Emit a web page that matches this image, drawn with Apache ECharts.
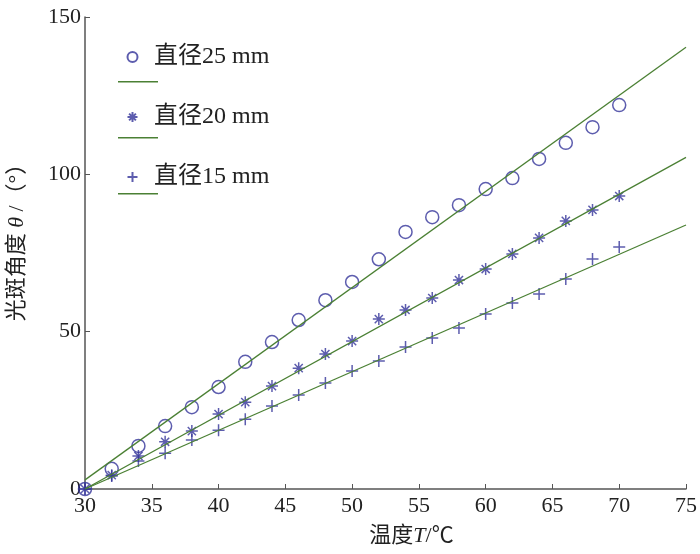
<!DOCTYPE html>
<html>
<head>
<meta charset="utf-8">
<script src="https://cdn.jsdelivr.net/npm/echarts@6/dist/echarts.min.js"></script>
<style>
  html, body { margin: 0; padding: 0; background: #fff; }
  #chart { width: 700px; height: 554px; }
</style>
</head>
<body>
<div id="chart"></div>
<script>
// temperature (℃) of the measured points
var temps = [30, 32, 34, 36, 38, 40, 42, 44, 46, 48, 50, 52, 54, 56, 58, 60, 62, 64, 66, 68, 70]
// spot angle (°) for each diameter
var d25 = [0, 6.4, 13.7, 20, 26, 32.4, 40.4, 46.7, 53.7, 60, 65.8, 73, 81.7, 86.4, 90.2, 95.3, 98.8, 104.9, 110, 115, 122]
var d20 = [0, 4.4, 10.5, 15, 18.4, 23.8, 27.6, 32.7, 38.4, 42.9, 47, 54, 56.9, 60.7, 66.4, 69.9, 74.7, 79.8, 85.2, 88.7, 93.1]
var d15 = [0, 4.1, 8.9, 11.4, 15.6, 18.7, 22.2, 26.4, 29.9, 33.7, 37.5, 40.7, 45.1, 48, 51.2, 55.6, 59.1, 62, 66.7, 73.1, 76.9]
// fitted lines, end points
var fitX = [30, 75]
var fit25 = [2.9, 140.4]
var fit20 = [0, 105.4]
var fit15 = [0, 83.9]
var names = ['直径25 mm', '直径20 mm', '直径15 mm']
var fitNames = ['拟合25 mm', '拟合20 mm', '拟合15 mm']

function pairs(xs, ys) {
    var out = []
    for (var i = 0; i < xs.length; i++) out.push([xs[i], ys[i]])
    return out
}

var blue = '#34349a'
var green = '#4b8034'
var axisCol = '#555'
var font = '"Liberation Serif", "Times New Roman", "Noto Sans CJK SC", serif'

var starPath = 'path://M5,0L5,10M0,5L10,5M1.6,1.6L8.4,8.4M8.4,1.6L1.6,8.4'
var plusPath = 'path://M5,0L5,10M0,5L10,5'

var chart = echarts.init(document.getElementById('chart'))

var scatterStyle = { color: 'none', borderColor: blue, borderWidth: 1.5 }

var option = {
    backgroundColor: '#fff',
    animation: false,
    textStyle: { fontFamily: font },
    grid: { left: 85, right: 14, top: 17, bottom: 65, outerBoundsMode: 'none', containLabel: false },
    legend: [
        {
            data: names,
            orient: 'vertical',
            left: 120,
            top: 40,
            itemWidth: 33,
            itemHeight: 10,
            itemGap: 36,
            textStyle: { fontSize: 24, lineHeight: 22, color: '#222', fontFamily: font }
        },
        {
            data: fitNames,
            orient: 'vertical',
            left: 113,
            top: 76,
            icon: 'rect',
            itemWidth: 40,
            itemHeight: 1.5,
            itemGap: 54.5,
            formatter: function () { return '' },
            textStyle: { fontSize: 1, lineHeight: 1 }
        }
    ],
    xAxis: {
        type: 'value',
        min: 30,
        max: 75,
        interval: 5,
        splitLine: { show: false },
        axisLine: { lineStyle: { color: axisCol, width: 1.5 } },
        axisTick: { inside: true, length: 5, lineStyle: { color: axisCol } },
        axisLabel: { fontSize: 22, color: '#222', margin: 6, fontFamily: font },
        name: '温度{i|T}/℃',
        nameLocation: 'middle',
        nameGap: 36,
        nameTextStyle: {
            fontSize: 22, color: '#222', fontFamily: font, padding: [0, 0, 0, 52],
            rich: { i: { fontSize: 22, fontStyle: 'italic', fontFamily: font, color: '#222' } }
        }
    },
    yAxis: {
        type: 'value',
        min: 0,
        max: 150,
        interval: 50,
        splitLine: { show: false },
        axisLine: { show: true, lineStyle: { color: axisCol, width: 1.5 } },
        axisTick: { show: true, inside: true, length: 5, lineStyle: { color: axisCol } },
        axisLabel: { fontSize: 22, color: '#222', margin: 4, fontFamily: font },
        name: '光斑角度 {i|θ} /（°）',
        nameLocation: 'middle',
        nameRotate: 90,
        nameGap: 57,
        nameTextStyle: {
            fontSize: 22, color: '#222', fontFamily: font, padding: [0, 0, 0, 32],
            rich: { i: { fontSize: 22, fontStyle: 'italic', fontFamily: font, color: '#222' } }
        }
    },
    series: [
        {
            name: fitNames[0], type: 'line', data: pairs(fitX, fit25),
            symbol: 'none', showSymbol: false, lineStyle: { color: green, width: 1.3 }, itemStyle: { color: green }
        },
        {
            name: fitNames[1], type: 'line', data: pairs(fitX, fit20),
            symbol: 'none', showSymbol: false, lineStyle: { color: green, width: 1.3 }, itemStyle: { color: green }
        },
        {
            name: fitNames[2], type: 'line', data: pairs(fitX, fit15),
            symbol: 'none', showSymbol: false, lineStyle: { color: green, width: 1.3 }, itemStyle: { color: green }
        },
        {
            name: names[0], type: 'scatter', data: pairs(temps, d25),
            symbol: 'circle', symbolSize: 13, itemStyle: scatterStyle
        },
        {
            name: names[1], type: 'scatter', data: pairs(temps, d20),
            symbol: starPath, symbolSize: 12, itemStyle: scatterStyle
        },
        {
            name: names[2], type: 'scatter', data: pairs(temps, d15),
            symbol: plusPath, symbolSize: 12, itemStyle: scatterStyle
        }
    ]
}

chart.setOption(option)
</script>
</body>
</html>
